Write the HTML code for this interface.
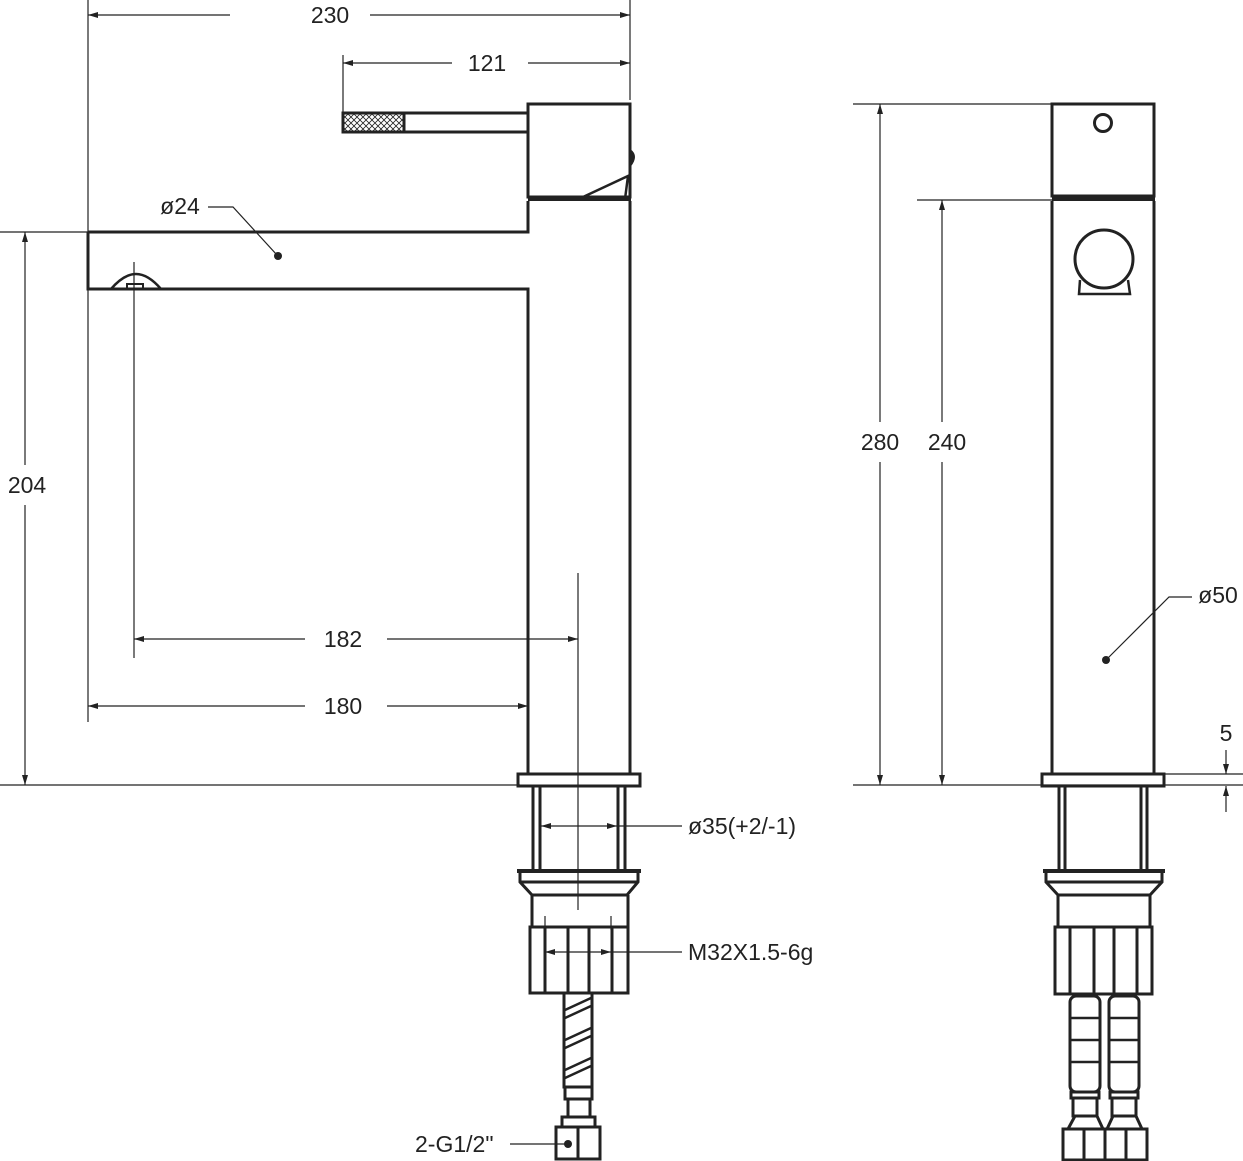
<!DOCTYPE html>
<html><head><meta charset="utf-8"><style>
html,body{margin:0;padding:0;background:#fff}
svg{display:block}
text{font-family:"Liberation Sans",sans-serif;font-size:23px;fill:#222}
</style></head><body>
<svg width="1243" height="1161" viewBox="0 0 1243 1161" xmlns="http://www.w3.org/2000/svg">
<defs>
<marker id="a" viewBox="0 0 10 6" refX="10" refY="3" markerWidth="10" markerHeight="6" orient="auto-start-reverse" markerUnits="userSpaceOnUse"><path d="M0,0L10,3L0,6z" fill="#222"/></marker>
<pattern id="h" width="6" height="6" patternUnits="userSpaceOnUse"><path d="M0,0L6,6M6,0L0,6" stroke="#222" stroke-width="0.8"/></pattern>
</defs>
<g stroke="#222" stroke-width="1.2" fill="none">
<line x1="88" y1="0" x2="88" y2="232"/><line x1="630" y1="0" x2="630" y2="100"/>
<line x1="88" y1="15" x2="230" y2="15" marker-start="url(#a)"/><line x1="370" y1="15" x2="630" y2="15" marker-end="url(#a)"/>
<line x1="343" y1="55" x2="343" y2="113"/>
<line x1="343" y1="63" x2="452" y2="63" marker-start="url(#a)"/><line x1="528" y1="63" x2="630" y2="63" marker-end="url(#a)"/>
<line x1="0" y1="232" x2="88" y2="232"/><line x1="0" y1="785" x2="520" y2="785"/>
<line x1="25" y1="232" x2="25" y2="465" marker-start="url(#a)"/><line x1="25" y1="505" x2="25" y2="785" marker-end="url(#a)"/>
<line x1="134" y1="262" x2="134" y2="658"/>
<line x1="578" y1="573" x2="578" y2="910"/>
<line x1="134" y1="639" x2="305" y2="639" marker-start="url(#a)"/><line x1="387" y1="639" x2="578" y2="639" marker-end="url(#a)"/>
<line x1="88" y1="290" x2="88" y2="722"/>
<line x1="88" y1="706" x2="305" y2="706" marker-start="url(#a)"/><line x1="387" y1="706" x2="528" y2="706" marker-end="url(#a)"/>
<polyline points="277,255 233,207 208,207"/>
<line x1="541" y1="826" x2="617" y2="826" marker-start="url(#a)" marker-end="url(#a)"/><line x1="617" y1="826" x2="682" y2="826"/>
<line x1="545" y1="952" x2="611" y2="952" marker-start="url(#a)" marker-end="url(#a)"/><line x1="611" y1="952" x2="682" y2="952"/>
<line x1="545" y1="916" x2="545" y2="930"/><line x1="611" y1="916" x2="611" y2="930"/>
<line x1="510" y1="1144" x2="566" y2="1144"/>
<line x1="853" y1="104" x2="1052" y2="104"/><line x1="853" y1="785" x2="1243" y2="785"/>
<line x1="917" y1="200" x2="1052" y2="200"/><line x1="1164" y1="774" x2="1243" y2="774"/>
<line x1="880" y1="104" x2="880" y2="422" marker-start="url(#a)"/><line x1="880" y1="462" x2="880" y2="785" marker-end="url(#a)"/>
<line x1="942" y1="200" x2="942" y2="422" marker-start="url(#a)"/><line x1="942" y1="462" x2="942" y2="785" marker-end="url(#a)"/>
<line x1="1226" y1="750" x2="1226" y2="774" marker-end="url(#a)"/><line x1="1226" y1="812" x2="1226" y2="786" marker-end="url(#a)"/>
<polyline points="1106,660 1169,597 1192,597"/>
</g>
<g stroke="#222" stroke-width="3" fill="none">
<rect x="343" y="113" width="185" height="19"/>
<rect x="344" y="114" width="60" height="17" fill="url(#h)" stroke="none"/>
<line x1="404" y1="113" x2="404" y2="132"/>
<rect x="528" y="104" width="102" height="93"/>
<path d="M630,150 Q638,156 630,166" fill="#222" stroke-width="2"/>
<polyline points="583,197 628,176 625,199" stroke-width="2.5"/>
<line x1="528" y1="199" x2="631" y2="199" stroke-width="4"/>
<polyline points="88,232 528,232 528,201"/>
<polyline points="88,232 88,289 528,289 528,775"/>
<line x1="630" y1="201" x2="630" y2="775"/>
<path d="M111,289 Q124,274 136,274 Q148,274 161,289" stroke-width="2.5"/>
<rect x="127" y="284" width="16" height="5" stroke-width="2"/>
<rect x="518" y="774" width="122" height="12"/>
<line x1="533" y1="786" x2="533" y2="870"/><line x1="540" y1="786" x2="540" y2="870"/>
<line x1="618" y1="786" x2="618" y2="870"/><line x1="625" y1="786" x2="625" y2="870"/>
<line x1="517" y1="871" x2="641" y2="871" stroke-width="4"/>
<polyline points="520,873 520,882 532,895 627,895 638,882 638,873"/>
<line x1="520" y1="882" x2="638" y2="882"/>
<polyline points="532,895 532,927 628,927 628,895" />
<rect x="530" y="927" width="98" height="66"/>
<rect x="530" y="927" width="15" height="66"/><rect x="568" y="927" width="21" height="66"/><rect x="612" y="927" width="16" height="66"/>
<rect x="564" y="993" width="28" height="94"/>
<path d="M565,1010 L591,998 M565,1018 L591,1006 M565,1040 L591,1028 M565,1048 L591,1036 M565,1070 L591,1058 M565,1078 L591,1066" stroke-width="2.5"/>
<rect x="565" y="1087" width="27" height="12"/>
<rect x="568" y="1099" width="22" height="18"/>
<rect x="562" y="1117" width="33" height="10"/>
<rect x="556" y="1127" width="44" height="32"/>
<line x1="578" y1="1127" x2="578" y2="1159"/>
<rect x="1052" y="104" width="102" height="92"/>
<line x1="1052" y1="199" x2="1155" y2="199" stroke-width="4"/>
<line x1="1052" y1="201" x2="1052" y2="775"/><line x1="1154" y1="201" x2="1154" y2="775"/>
<circle cx="1103" cy="123" r="8.5"/>
<circle cx="1104" cy="259" r="29"/>
<polyline points="1080,280 1079,294 1130,294 1128,280" stroke-width="2.5"/>
<rect x="1042" y="774" width="122" height="12"/>
<line x1="1059" y1="786" x2="1059" y2="870"/><line x1="1065" y1="786" x2="1065" y2="870"/>
<line x1="1141" y1="786" x2="1141" y2="870"/><line x1="1147" y1="786" x2="1147" y2="870"/>
<line x1="1043" y1="871" x2="1165" y2="871" stroke-width="4"/>
<polyline points="1046,873 1046,882 1058,895 1150,895 1162,882 1162,873"/>
<line x1="1046" y1="882" x2="1162" y2="882"/>
<polyline points="1058,895 1058,927 1150,927 1150,895"/>
<rect x="1055" y="927" width="97" height="67"/>
<rect x="1055" y="927" width="15" height="67"/><rect x="1094" y="927" width="20" height="67"/><rect x="1137" y="927" width="15" height="67"/>
<rect x="1070" y="996" width="30" height="96" rx="6"/><rect x="1109" y="996" width="30" height="96" rx="6"/>
<path d="M1071,1018 H1099 M1071,1040 H1099 M1071,1062 H1099 M1110,1018 H1138 M1110,1040 H1138 M1110,1062 H1138" stroke-width="2.5"/>
<rect x="1071" y="1092" width="28" height="6"/><rect x="1110" y="1092" width="28" height="6"/>
<rect x="1073" y="1098" width="24" height="18"/><rect x="1112" y="1098" width="24" height="18"/>
<rect x="1063" y="1129" width="84" height="31"/>
<line x1="1084" y1="1129" x2="1084" y2="1160"/><line x1="1105" y1="1129" x2="1105" y2="1160"/><line x1="1126" y1="1129" x2="1126" y2="1160"/>
<polyline points="1068,1129 1075,1116 1097,1116 1103,1129"/><polyline points="1107,1129 1113,1116 1136,1116 1142,1129"/>
</g>
<g fill="#222">
<circle cx="278" cy="256" r="4"/>
<circle cx="1106" cy="660" r="4"/>
<circle cx="568" cy="1144" r="4"/>
</g>
<text x="330" y="23" text-anchor="middle">230</text>
<text x="487" y="71" text-anchor="middle">121</text>
<text x="180" y="214" text-anchor="middle">ø24</text>
<text x="27" y="493" text-anchor="middle">204</text>
<text x="343" y="647" text-anchor="middle">182</text>
<text x="343" y="714" text-anchor="middle">180</text>
<text x="688" y="834">ø35(+2/-1)</text>
<text x="688" y="960">M32X1.5-6g</text>
<text x="415" y="1152">2-G1/2"</text>
<text x="880" y="450" text-anchor="middle">280</text>
<text x="947" y="450" text-anchor="middle">240</text>
<text x="1218" y="603" text-anchor="middle">ø50</text>
<text x="1226" y="741" text-anchor="middle">5</text>
</svg>
</body></html>
